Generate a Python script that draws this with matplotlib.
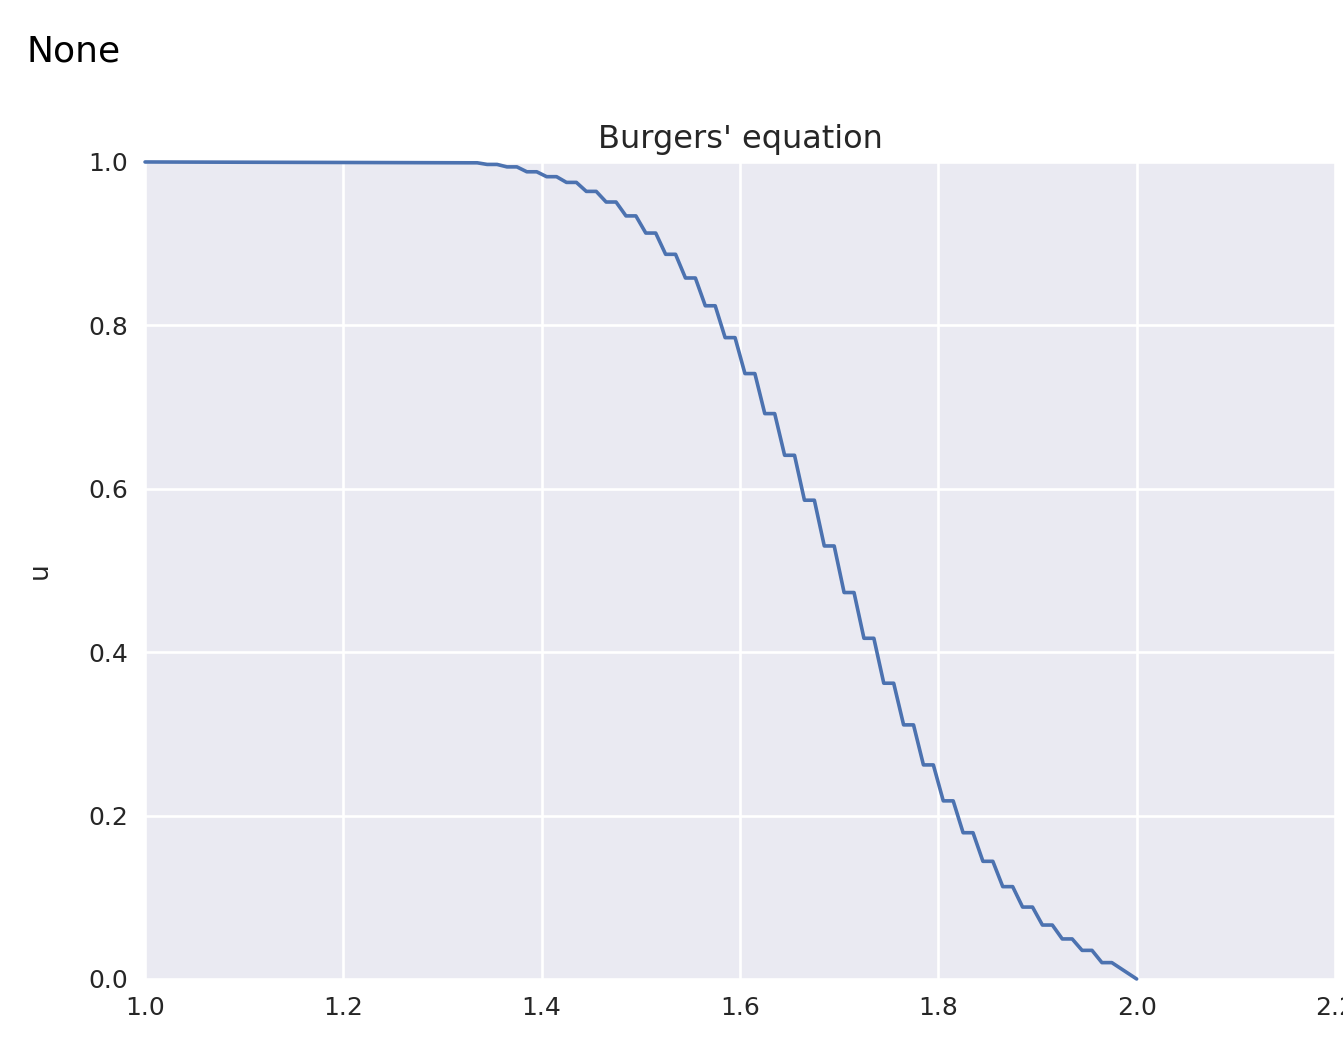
import matplotlib
matplotlib.use("Agg")
import matplotlib.pyplot as plt
import seaborn as sns
import numpy as np

# start of each flat step (x) and its level u
step_x = [1.325, 1.345, 1.365, 1.385, 1.405, 1.425, 1.445, 1.465, 1.485, 1.505,
          1.525, 1.545, 1.565, 1.585, 1.605, 1.625, 1.645, 1.665, 1.685, 1.705,
          1.725, 1.745, 1.765, 1.785, 1.805, 1.825, 1.845, 1.865, 1.885, 1.905,
          1.925, 1.945, 1.965]
step_u = [0.999, 0.997, 0.994, 0.988, 0.982, 0.975, 0.964, 0.951, 0.934, 0.913,
          0.887, 0.858, 0.824, 0.785, 0.741, 0.692, 0.641, 0.586, 0.530, 0.473,
          0.417, 0.362, 0.311, 0.262, 0.218, 0.179, 0.144, 0.113, 0.088, 0.066,
          0.049, 0.035, 0.020]
step_w = 0.01
x_start, u_start = 1.0, 1.0
x_end, u_end = 2.0, 0.0

x = [x_start]
u = [u_start]
for xs, us in zip(step_x, step_u):
    x += [xs, xs + step_w]
    u += [us, us]
x.append(x_end)
u.append(u_end)

sns.set_style("darkgrid")
plt.rcParams['font.family'] = ['DejaVu Sans']

fig = plt.figure(figsize=(13.43, 10.43), dpi=100)
ax = fig.add_axes([0.108, 0.0614, 0.886, 0.7833])
ax.plot(x, u, color='#4C72B0', linewidth=2.6, clip_on=False)
ax.set_xlim(1.0, 2.2)
ax.set_ylim(0.0, 1.0)
ax.set_xticks(np.arange(1.0, 2.21, 0.2))
ax.set_yticks(np.arange(0.0, 1.01, 0.2))
ax.grid(True, color='white', linewidth=1.9)
ax.tick_params(labelsize=18, colors='#262626', length=0, pad=12)
ax.set_ylabel('u', fontsize=19, color='#262626', labelpad=26)
ax.set_title("Burgers' equation", fontsize=23, color='#262626', pad=10)
for s in ax.spines.values():
    s.set_visible(False)

fig.text(27 / 1343, 1 - 62 / 1043, 'None', fontsize=26, color='black',
         ha='left', va='baseline')

plt.savefig('out.png', dpi=100)
